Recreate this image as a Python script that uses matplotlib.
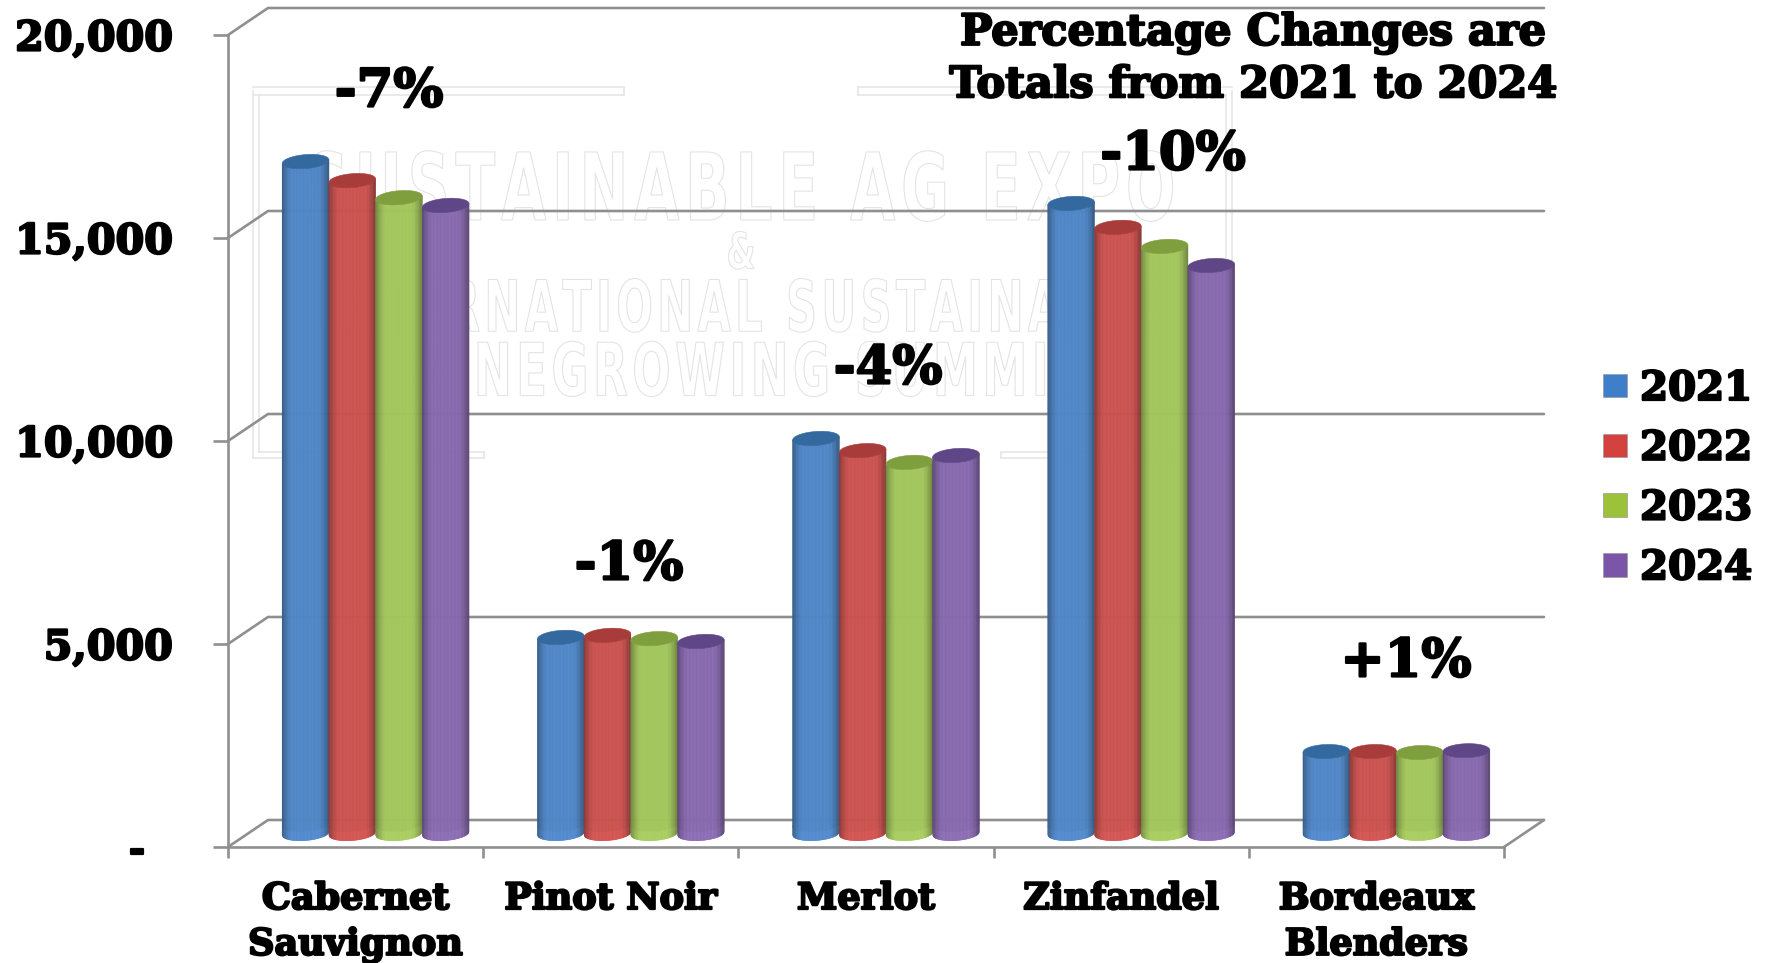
import numpy as np
import matplotlib
matplotlib.use("Agg")
import matplotlib.pyplot as plt
import matplotlib.patheffects as pe
from matplotlib.collections import PolyCollection
from matplotlib.patches import Patch, Polygon
from matplotlib.colors import to_rgb
from matplotlib.transforms import Affine2D

# ---- data ----
categories = ["Cabernet\nSauvignon", "Pinot Noir", "Merlot", "Zinfandel", "Bordeaux\nBlenders"]
years = ["2021", "2022", "2023", "2024"]
v2021 = [16550, 4830, 9730, 15520, 2020]
v2022 = [16080, 4880, 9430, 14930, 2020]
v2023 = [15660, 4800, 9140, 14460, 1995]
v2024 = [15470, 4730, 9310, 13990, 2040]
series = [v2021, v2022, v2023, v2024]
pct_labels = ["-7%", "-1%", "-4%", "-10%", "+1%"]
y_ticks = [0, 5000, 10000, 15000, 20000]
y_tick_labels = ["-", "5,000", "10,000", "15,000", "20,000"]
note = "Percentage Changes are\nTotals from 2021 to 2024"
watermark = ["SUSTAINABLE AG EXPO", "&", "INTERNATIONAL SUSTAINABLE", "WINEGROWING SUMMIT"]

# ---- style ----
W, H = 1769, 963
AX_L, AX_R, AX_B, AX_T = 228, 1504, 847, 35
GRAY = "#8f8f8f"
body_cols = ["#4f86c6", "#cb524f", "#a3c65c", "#8769ae"]
cap_cols = ["#33699f", "#a83c3a", "#7f9f3e", "#5f4687"]
leg_cols = ["#3f7fca", "#d5413f", "#9cc23c", "#7a55a8"]
FONT = "DejaVu Serif"
FAT = [pe.withStroke(linewidth=1.6, foreground="black")]
pct_px = [(389, 92), (629, 565), (888, 369), (1173, 155), (1406, 662)]
tilt_px = [1.8, 1.6, 1.6, 1.4, 0.7]

fig = plt.figure(figsize=(W / 100, H / 100), dpi=100, facecolor="white")
ax = fig.add_axes([AX_L / W, 1 - AX_B / H, (AX_R - AX_L) / W, (AX_B - AX_T) / H])
ax.set_xlim(0, 5)
ax.set_ylim(0, 20000)
ax.patch.set_alpha(0)
ax.set_zorder(1)

PX_X = 5 / (AX_R - AX_L)          # category units per pixel
PX_Y = 20000 / (AX_B - AX_T)      # value units per pixel
DX, DY = 40 * PX_X, 27 * PX_Y     # depth of the floor


def fx(x):
    return x / W


def fy(y):
    return 1 - y / H


class TallOutline(pe.AbstractPathEffect):
    """Outline-only glyphs, stretched vertically around a baseline pivot."""

    def __init__(self, pivot, stretch, color, lw):
        super().__init__()
        self.pivot, self.stretch, self.color, self.lw = pivot, stretch, color, lw

    def draw_path(self, renderer, gc, tpath, affine, rgbFace=None):
        gc0 = renderer.new_gc()
        gc0.copy_properties(gc)
        gc0.set_foreground(self.color)
        gc0.set_linewidth(self.lw)
        aff = affine + Affine2D().translate(0, -self.pivot).scale(1, self.stretch).translate(0, self.pivot)
        renderer.draw_path(gc0, tpath, aff, None)
        gc0.restore()


# ---- watermark ----
HS = "\u200a"
wm_spec = [(742, 184, 42, 1.6), (741, 249, 24, 1.5), (741, 304, 31, 1.65), (741, 368, 32.5, 1.62)]
for txt, (x, y, size, st) in zip(watermark, wm_spec):
    fig.text(fx(x), fy(y), HS.join(txt), ha="center", va="center_baseline", fontsize=size,
             family="DejaVu Sans", weight="bold", color="white",
             path_effects=[TallOutline(H - y, st, "#e4e4e4", 0.8)], zorder=0.5)
box_kw = dict(color="#e6e6e6", lw=1.2, transform=fig.transFigure, zorder=0.6)
for xs, ys in [
    ([253, 253], [91, 458]), ([259, 259], [95, 452]),
    ([1232, 1232], [91, 458]), ([1226, 1226], [95, 452]),
    ([253, 624], [87, 87]), ([253, 624], [95, 95]), ([624, 624], [87, 95]),
    ([858, 1232], [87, 87]), ([858, 1226], [95, 95]), ([858, 858], [87, 95]),
    ([253, 484], [458, 458]), ([259, 484], [452, 452]), ([484, 484], [452, 458]),
    ([1001, 1232], [458, 458]), ([1001, 1226], [452, 452]), ([1001, 1001], [452, 458]),
]:
    fig.add_artist(plt.Line2D([fx(a) for a in xs], [fy(b) for b in ys], **box_kw))

# ---- walls and floor ----
line_kw = dict(color=GRAY, lw=1.9, clip_on=False, solid_capstyle="round", zorder=1)
for v in y_ticks:
    ax.plot([0, DX, 5 + DX], [v, v + DY, v + DY], **line_kw)
ax.plot([5, 5 + DX], [0, DY], **line_kw)

# ---- cylinders ----
BW = 46.7 * PX_X
BH = 7 * PX_Y
NS = 60
us = np.linspace(-1, 1, NS + 1)
Y0 = DY / 2   # bars stand half way back on the floor


def shade(u):
    e = np.clip((np.abs(u) - 0.55) / 0.45, 0, 1)
    return 1 - 0.34 * e ** 1.6


def arc(u, val, b, t):
    return Y0 + val - b * np.sqrt(np.clip(1 - u ** 2, 0, 1)) + t * u


for g in range(len(categories)):
    t = tilt_px[g] * PX_Y
    for s, vals in enumerate(series):
        xc = g + 0.5 + DX / 2 + (s - 1.5) * BW
        base_rgb = np.array(to_rgb(body_cols[s]))
        val = vals[g]
        polys, cols = [], []
        for u0, u1 in zip(us[:-1], us[1:]):
            um = (u0 + u1) / 2
            x0, x1 = xc + u0 * BW / 2, xc + u1 * BW / 2
            band = 9 * PX_Y
            polys.append([(x0, arc(u0, 0, BH, t) + band), (x1, arc(u1, 0, BH, t) + band),
                          (x1, arc(u1, val, BH, t)), (x0, arc(u0, val, BH, t))])
            cols.append(np.clip(base_rgb * shade(um), 0, 1))
            polys.append([(x0, arc(u0, 0, BH, t)), (x1, arc(u1, 0, BH, t)),
                          (x1, arc(u1, 0, BH, t) + band), (x0, arc(u0, 0, BH, t) + band)])
            cols.append(np.clip(base_rgb * shade(um) * 1.04, 0, 1))
        ax.add_collection(PolyCollection(polys, facecolors=cols, edgecolors=cols, linewidths=0.4,
                                         clip_on=False, zorder=3 + g + s * 0.1))
        th = np.linspace(0, 2 * np.pi, 60)
        cap = np.column_stack([xc + BW / 2 * np.cos(th),
                               Y0 + val + BH * np.sin(th) + t * np.cos(th)])
        ax.add_patch(Polygon(cap, closed=True, fc=cap_cols[s], ec=cap_cols[s], lw=0.4,
                             clip_on=False, zorder=3.05 + g + s * 0.1))

# ---- axes ----
for k in ("top", "right"):
    ax.spines[k].set_visible(False)
for k in ("left", "bottom"):
    ax.spines[k].set_color(GRAY)
    ax.spines[k].set_linewidth(1.9)
    ax.spines[k].set_zorder(1)
ax.set_yticks(y_ticks)
ax.set_yticklabels(y_tick_labels, fontsize=29.7, family=FONT, weight="bold", color="black")
ax.tick_params(axis="y", length=10.8, width=1.9, color=GRAY, pad=29)
ax.set_xticks(range(6))
ax.set_xticklabels([])
ax.tick_params(axis="x", which="major", length=8, width=1.9, color=GRAY)
ax.set_xticks([i + 0.5 for i in range(5)], minor=True)
ax.set_xticklabels(categories, minor=True, fontsize=26.3, family=FONT, weight="bold",
                   color="black", linespacing=1.35)
ax.tick_params(axis="x", which="minor", length=0, pad=24.5)
for lab in ax.get_xticklabels(minor=True) + ax.get_yticklabels():
    lab.set_path_effects(FAT)
# the zero label sits in from the right edge, as in an accounting number format
dash = ax.get_yticklabels()[0]
dash.set_x(dash.get_position()[0] - 27 / (AX_R - AX_L))

# ---- annotations ----
for lab, (x, y) in zip(pct_labels, pct_px):
    fig.text(fx(x), fy(y), lab, ha="center", va="center", fontsize=38, family=FONT,
             weight="bold", color="black", path_effects=FAT, zorder=20)
fig.text(fx(1253), fy(59), note, ha="center", va="center", fontsize=31, family=FONT,
         weight="bold", color="black", linespacing=1.3, path_effects=FAT, zorder=20)

# ---- legend ----
handles = [Patch(fc=c, ec="#9a9a9a", lw=0.5) for c in leg_cols]
leg = fig.legend(handles, years, loc="upper left", bbox_to_anchor=(fx(1603), fy(370)),
                 frameon=False, borderpad=0, borderaxespad=0,
                 prop={"family": FONT, "weight": "bold", "size": 29},
                 handlelength=0.6, handleheight=0.52, handletextpad=0.32, labelspacing=0.54)
for t_ in leg.get_texts():
    t_.set_path_effects(FAT)
leg.set_zorder(20)

fig.savefig("out.png", dpi=100)
